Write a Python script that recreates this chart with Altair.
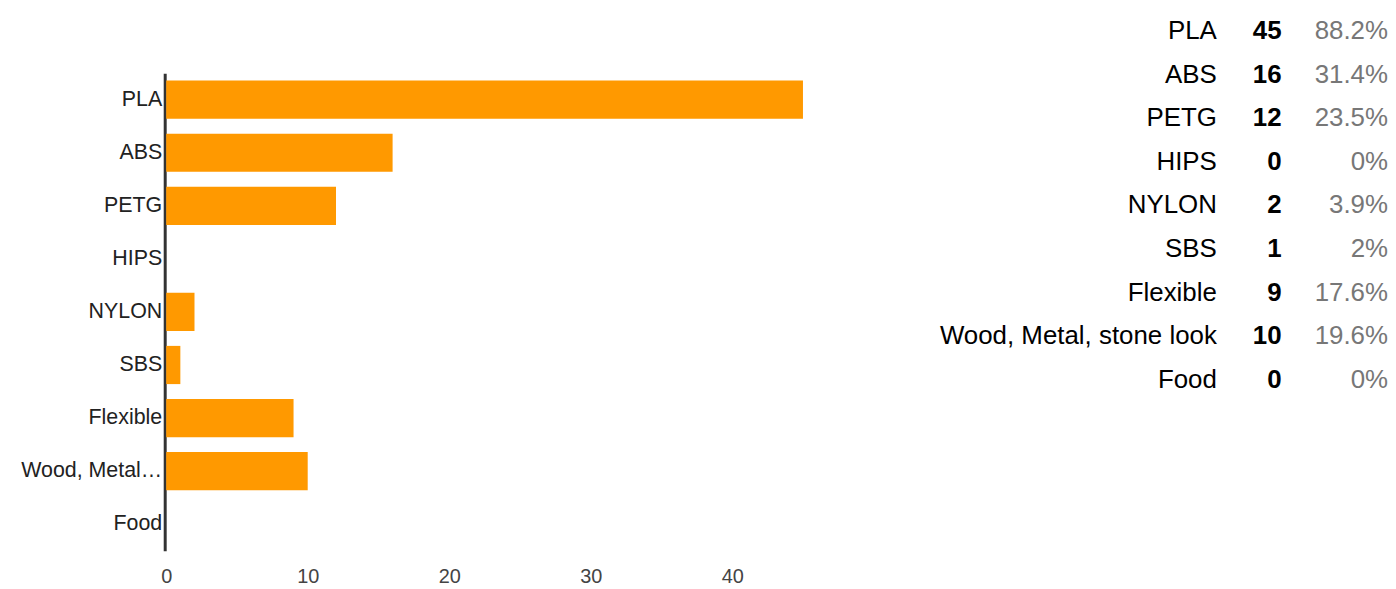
import altair as alt
import pandas as pd

categories = ["PLA", "ABS", "PETG", "HIPS", "NYLON", "SBS", "Flexible",
              "Wood, Metal, stone look", "Food"]
counts = [45, 16, 12, 0, 2, 1, 9, 10, 0]
percents = ["88.2%", "31.4%", "23.5%", "0%", "3.9%", "2%", "17.6%", "19.6%", "0%"]
x_ticks = [0, 10, 20, 30, 40]

df = pd.DataFrame({"cat": categories, "count": counts, "pct": percents})

FONT = "Liberation Sans"

bars = alt.Chart(df).mark_bar(color="#FF9900").encode(
    x=alt.X("count:Q",
            scale=alt.Scale(domain=[0, 45], nice=False),
            axis=alt.Axis(values=x_ticks, title=None, grid=False, domain=False,
                          ticks=False, labelFontSize=20, labelColor="#444444",
                          labelFont=FONT, labelPadding=16, labelFlush=False)),
    y=alt.Y("cat:N", sort=categories,
            scale=alt.Scale(range=[64, 544], paddingInner=0.28, paddingOuter=0.14),
            axis=alt.Axis(title=None, ticks=False, domainColor="#333333",
                          domainWidth=3, offset=1.5, labelFontSize=21.5,
                          labelColor="#222222", labelFont=FONT, labelLimit=143,
                          labelPadding=3)),
).properties(width=640, height=544)

base = alt.Chart(df).encode(
    y=alt.Y("cat:N", sort=categories, axis=None,
            scale=alt.Scale(paddingInner=0, paddingOuter=0))
)
lab = base.mark_text(align="right", baseline="middle", fontSize=26, font=FONT,
                     color="#000000").encode(x=alt.value(321), text="cat:N")
cnt = base.mark_text(align="right", baseline="middle", fontSize=26, font=FONT,
                     fontWeight="bold", color="#000000").encode(
    x=alt.value(386), text="count:Q")
pct = base.mark_text(align="right", baseline="middle", fontSize=26, font=FONT,
                     color="#777777").encode(x=alt.value(493), text="pct:N")
table = alt.layer(lab, cnt, pct).properties(width=493, height=394)

chart = alt.hconcat(bars, table, spacing=95).properties(
    padding={"left": 12, "top": 0, "right": 0, "bottom": 0}
).configure_view(stroke=None).resolve_scale(y="independent")

chart.save("out.html", embed_options={"renderer": "svg", "actions": False})
